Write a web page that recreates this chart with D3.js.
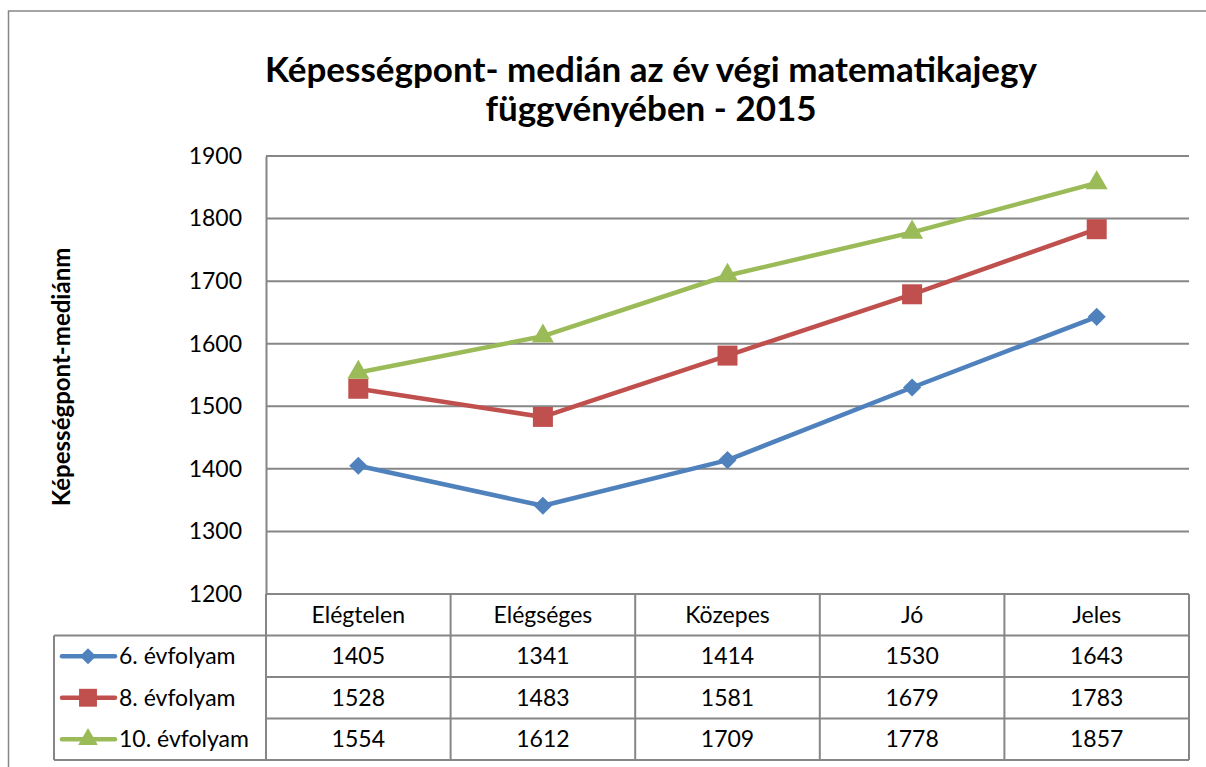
<!DOCTYPE html>
<html>
<head>
<meta charset="utf-8">
<script src="https://cdn.jsdelivr.net/npm/d3@7"></script>
<style>
    body { margin: 0; background: #fff; }
    svg { font-family: Lato, "Open Sans", sans-serif; }
</style>
</head>
<body>
<div id="chart"></div>
<script>
// Data
const categories = ['Elégtelen', 'Elégséges', 'Közepes', 'Jó', 'Jeles'];
const seriesNames = ['6. évfolyam', '8. évfolyam', '10. évfolyam'];
const grade6 = [1405, 1341, 1414, 1530, 1643];
const grade8 = [1528, 1483, 1581, 1679, 1783];
const grade10 = [1554, 1612, 1709, 1778, 1857];
const yTicks = [1200, 1300, 1400, 1500, 1600, 1700, 1800, 1900];

const colors = ['#4F81BD', '#C0504D', '#9BBB59'];
// diamond is drawn as a square turned by 45 degrees
const symbols = [d3.symbolSquare, d3.symbolSquare, d3.symbolTriangle];
const symbolSizes = [165, 400, 210];
const symbolTurn = [45, 0, 0];

const series = seriesNames.map((name, i) => ({
    name,
    values: [grade6, grade8, grade10][i],
    color: colors[i],
    symbol: symbols[i],
    size: symbolSizes[i],
    turn: symbolTurn[i]
}));

const width = 1206, height = 767;
const plot = { left: 266, top: 156, right: 1189, bottom: 594 };
const rowH = 41.5;
const tableLeft = 54;
const gridColor = '#868686';
const fontSize = 23;

const svg = d3.select('#chart').append('svg')
    .attr('width', width)
    .attr('height', height);

// Outer chart border
svg.append('rect')
    .attr('x', 8.5).attr('y', 11)
    .attr('width', 1215).attr('height', 800)
    .attr('fill', 'none')
    .attr('stroke', gridColor)
    .attr('stroke-width', 1.5);

// Title
const title = svg.append('text')
    .attr('text-anchor', 'middle')
    .attr('font-weight', 'bold')
    .attr('font-size', 35)
    .attr('fill', '#000');
title.append('tspan').attr('x', 651).attr('y', 82).text('Képességpont- medián az év végi matematikajegy');
title.append('tspan').attr('x', 651).attr('y', 121).text('függvényében - 2015');

// Scales
const x = d3.scaleBand()
    .domain(categories)
    .range([plot.left, plot.right]);

const y = d3.scaleLinear()
    .domain([1200, 1900])
    .range([plot.bottom, plot.top]);

// Gridlines
svg.append('g')
    .selectAll('line')
    .data(yTicks)
    .enter()
    .append('line')
    .attr('x1', plot.left).attr('x2', plot.right)
    .attr('y1', d => y(d)).attr('y2', d => y(d))
    .attr('stroke', gridColor)
    .attr('stroke-width', 2);

// Y axis
const yAxis = svg.append('g')
    .attr('transform', `translate(${plot.left},0)`)
    .call(d3.axisLeft(y).tickValues(yTicks).tickSize(0).tickPadding(24).tickFormat(d3.format('d')));
yAxis.select('.domain').attr('stroke', gridColor).attr('stroke-width', 2);
yAxis.selectAll('text')
    .attr('font-size', fontSize)
    .attr('font-family', 'Lato, sans-serif')
    .attr('fill', '#000');

// Y axis title
svg.append('text')
    .attr('transform', 'translate(70,377) rotate(-90)')
    .attr('text-anchor', 'middle')
    .attr('font-weight', 'bold')
    .attr('font-size', 24)
    .text('Képességpont-mediánm');

// Lines
const line = d3.line()
    .x((d, i) => x(categories[i]) + x.bandwidth() / 2)
    .y(d => y(d));

series.forEach(s => {
    svg.append('path')
        .datum(s.values)
        .attr('d', line)
        .attr('fill', 'none')
        .attr('stroke', s.color)
        .attr('stroke-width', 4.5)
        .attr('stroke-linejoin', 'round');

    svg.append('g')
        .selectAll('path')
        .data(s.values)
        .enter()
        .append('path')
        .attr('d', d3.symbol().type(s.symbol).size(s.size))
        .attr('transform', (d, i) => `translate(${x(categories[i]) + x.bandwidth() / 2},${y(d)}) rotate(${s.turn})`)
        .attr('fill', s.color);
});

// Data table
const table = svg.append('g');
const tableBottom = plot.bottom + rowH * 4;

// Horizontal table lines
[1, 2, 3, 4].forEach(r => {
    table.append('line')
        .attr('x1', r === 1 ? tableLeft : plot.left).attr('x2', plot.right)
        .attr('y1', plot.bottom + rowH * r).attr('y2', plot.bottom + rowH * r)
        .attr('stroke', gridColor).attr('stroke-width', 2);
});
table.append('line')
    .attr('x1', tableLeft).attr('x2', plot.left)
    .attr('y1', tableBottom).attr('y2', tableBottom)
    .attr('stroke', gridColor).attr('stroke-width', 2);
// Vertical table lines
x.domain().forEach(c => {
    table.append('line')
        .attr('x1', x(c)).attr('x2', x(c))
        .attr('y1', plot.bottom).attr('y2', tableBottom)
        .attr('stroke', gridColor).attr('stroke-width', 2);
});
table.append('line')
    .attr('x1', plot.right).attr('x2', plot.right)
    .attr('y1', plot.bottom).attr('y2', tableBottom)
    .attr('stroke', gridColor).attr('stroke-width', 2);
table.append('line')
    .attr('x1', tableLeft).attr('x2', tableLeft)
    .attr('y1', plot.bottom + rowH).attr('y2', tableBottom)
    .attr('stroke', gridColor).attr('stroke-width', 2);

// Header row
table.selectAll('.cat')
    .data(categories)
    .enter()
    .append('text')
    .attr('class', 'cat')
    .attr('x', d => x(d) + x.bandwidth() / 2)
    .attr('y', plot.bottom + rowH / 2)
    .attr('dy', '0.35em')
    .attr('text-anchor', 'middle')
    .attr('font-size', fontSize)
    .text(d => d);

// Series rows
series.forEach((s, r) => {
    const cy = plot.bottom + rowH * (r + 1) + rowH / 2;
    table.append('line')
        .attr('x1', 62).attr('x2', 115)
        .attr('y1', cy).attr('y2', cy)
        .attr('stroke', s.color).attr('stroke-width', 4.5)
        .attr('stroke-linecap', 'round');
    table.append('path')
        .attr('d', d3.symbol().type(s.symbol).size(s.size * 0.8))
        .attr('transform', `translate(88,${cy}) rotate(${s.turn})`)
        .attr('fill', s.color);
    table.append('text')
        .attr('x', 119).attr('y', cy)
        .attr('dy', '0.35em')
        .attr('font-size', fontSize)
        .text(s.name);
    table.selectAll(`.v${r}`)
        .data(s.values)
        .enter()
        .append('text')
        .attr('x', (d, i) => x(categories[i]) + x.bandwidth() / 2)
        .attr('y', cy)
        .attr('dy', '0.35em')
        .attr('text-anchor', 'middle')
        .attr('font-size', fontSize)
        .text(d => d);
});
</script>
</body>
</html>
